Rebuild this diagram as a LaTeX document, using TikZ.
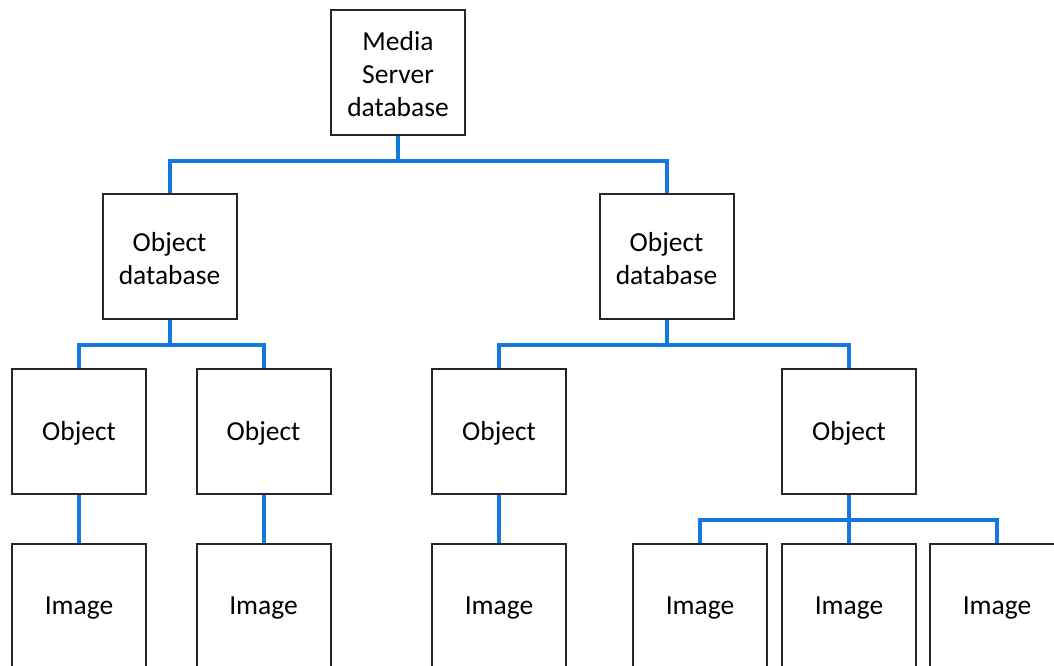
\documentclass[tikz,border=0pt]{standalone}
\usepackage{fontspec}
\setmainfont{Carlito}
\definecolor{linkblue}{RGB}{20,120,225}
\begin{document}
\begin{tikzpicture}[x=1pt,y=-1pt,
  box/.style={draw=black!85,line width=2pt,fill=white,minimum width=134pt,minimum height=125pt,
    inner sep=0pt,label={[align=center,font=\fontsize{27.5}{33}\selectfont,yshift=-2pt]center:#1}},
  link/.style={draw=linkblue,line width=4pt}]
\useasboundingbox (0,0) rectangle (1054,666);
\clip (0,0) rectangle (1054,666);
\node[box={Media\\Server\\database}] (ms) at (398,72.5) {};
\node[box={Object\\database}] (odL) at (169.5,256.5) {};
\node[box={Object\\database}] (odR) at (666.5,256.5) {};
\node[box=Object] (o1) at (79,431.5) {};
\node[box=Object] (o2) at (263.5,431.5) {};
\node[box=Object] (o3) at (499,431.5) {};
\node[box=Object] (o4) at (849,431.5) {};
\node[box=Image] (i1) at (79,606.5) {};
\node[box=Image] (i2) at (263.5,606.5) {};
\node[box=Image] (i3) at (499,606.5) {};
\node[box=Image] (i4) at (700,606.5) {};
\node[box=Image] (i5) at (849,606.5) {};
\node[box=Image] (i6) at (997,606.5) {};
\draw[link] (ms.south) -- ++(0,25) -| (odL.north);
\draw[link] (ms.south) -- ++(0,25) -| (odR.north);
\draw[link] (odL.south) -- ++(0,25) -| (o1.north);
\draw[link] (odL.south) -- ++(0,25) -| (o2.north);
\draw[link] (odR.south) -- ++(0,25) -| (o3.north);
\draw[link] (odR.south) -- ++(0,25) -| (o4.north);
\draw[link] (o1.south) -- (i1.north);
\draw[link] (o2.south) -- (i2.north);
\draw[link] (o3.south) -- (i3.north);
\draw[link] (o4.south) -- ++(0,25) -| (i4.north);
\draw[link] (o4.south) -- (i5.north);
\draw[link] (o4.south) -- ++(0,25) -| (i6.north);
\end{tikzpicture}
\end{document}
